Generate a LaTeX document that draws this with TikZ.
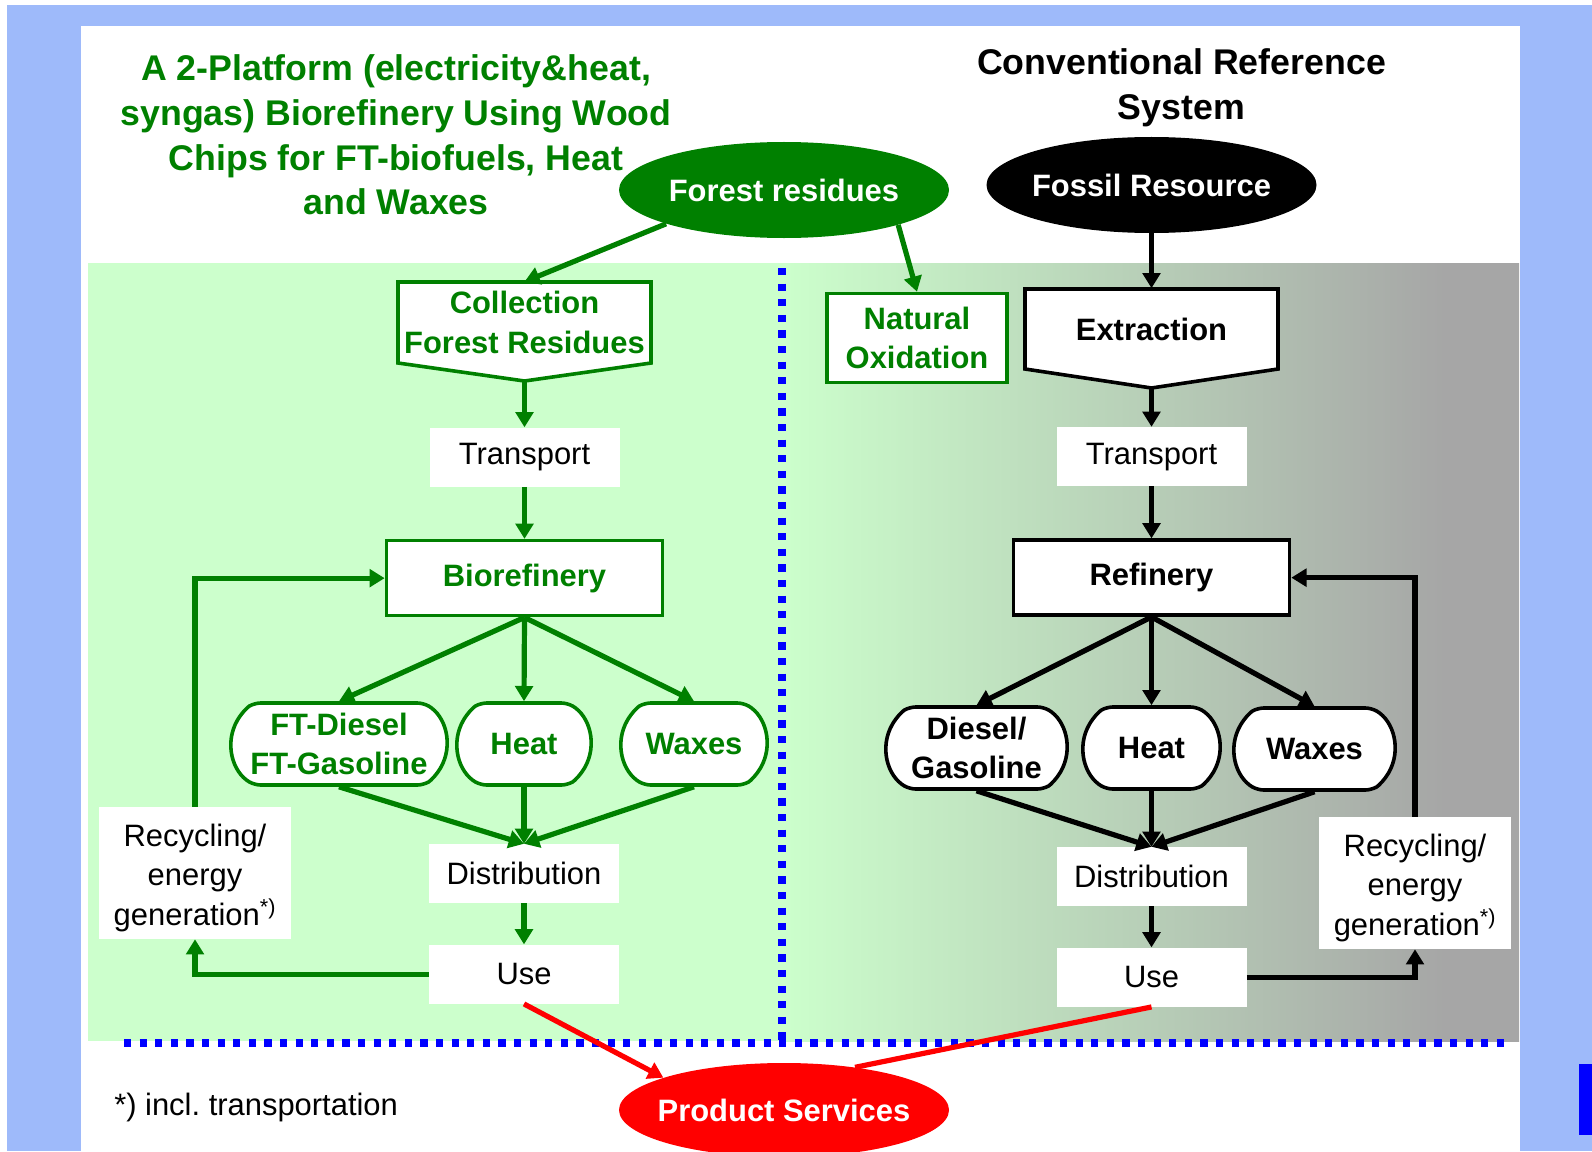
\documentclass[tikz,border=0pt]{standalone}
\usepackage{fontspec}
\setmainfont{Liberation Sans}
\usetikzlibrary{arrows.meta, positioning, shapes.geometric, shapes.misc}
\definecolor{bioGreen}{HTML}{008000}
\definecolor{bioLight}{HTML}{CCFFCC}
\definecolor{refGray}{HTML}{A6A6A6}
\definecolor{slideBlue}{HTML}{9EBAFA}
\definecolor{dotBlue}{HTML}{0000FF}
\definecolor{prodRed}{HTML}{FF0000}
\pgfdeclarehorizontalshading{refshade}{100bp}{color(0bp)=(bioLight); color(25bp)=(bioLight); color(70bp)=(refGray); color(100bp)=(refGray)}
\frenchspacing

\begin{document}
\begin{tikzpicture}[x=0.25mm, y=-0.25mm,
  txt/.style={font=\fontsize{22}{28.2}\selectfont, align=center, inner sep=0pt},
  whitebox/.style={txt, fill=white, minimum width=47.5mm, minimum height=14.75mm},
  gbox/.style={txt, font=\fontsize{22}{28.2}\selectfont\bfseries, text=bioGreen, draw=bioGreen, fill=white, line width=0.9mm},
  kbox/.style={gbox, text=black, draw=black},
  gprod/.style={gbox, rounded rectangle, rounded rectangle arc length=120, rounded corners=1.5mm, minimum height=20.5mm},
  kprod/.style={gprod, text=black, draw=black},
  gpent/.style={txt, font=\fontsize{22}{28.2}\selectfont\bfseries, text=bioGreen, minimum width=63.25mm, minimum height=20.25mm},
  gshape/.style={draw=bioGreen, fill=white, line width=0.9mm},
  titletxt/.style={align=center, inner sep=0pt, font=\fontsize{25.4}{31.8}\selectfont\bfseries},
  ell/.style={ellipse, inner xsep=-5mm, inner ysep=0pt, minimum width=82.5mm, minimum height=24mm, text=white, font=\fontsize{22}{28.2}\selectfont\bfseries},
  garr/.style={draw=bioGreen, line width=1.3mm, -{Triangle[length=3.8mm, width=4.4mm]}},
  karr/.style={garr, draw=black},
  rline/.style={draw=prodRed, line width=1.3mm},
  rarr/.style={rline, -{Triangle[length=3.8mm, width=4.4mm]}},
  dots/.style={draw=dotBlue, line width=1.8mm, dash pattern=on 1.8mm off 2.1mm},
]
  \useasboundingbox (0,0) rectangle (1592,1151);
  \clip (0,0) rectangle (1592,1151);

  % slide background
  \fill[white] (0,0) rectangle (1592,1151);
  \fill[slideBlue] (7,5) rectangle (1592,1151);
  \fill[white] (81,26) rectangle (1520,1151);
  \fill[bioLight] (88,263) rectangle (782,1041);
  \shade[shading=refshade] (782,263) rectangle (1519,1041);
  \fill[dotBlue] (1579,1064) rectangle (1592,1135);
  \draw[dots] (782,268) -- (782,1043);
  \draw[dots] (124,1043) -- (1505,1043);

  % titles
  \node[titletxt, text=bioGreen] (bioTitle) at (396,135) {A 2-Platform (electricity\&heat,\\syngas) Biorefinery Using Wood\\Chips for FT-biofuels, Heat\\and Waxes};
  \node[titletxt] (refTitle) at (1181.5,88) {Conventional Reference\\System};

  % resources
  \node[ell, fill=bioGreen] (forest) at (784,190) {Forest residues};
  \node[ell, fill=black] (fossil) at (1151.5,185) {Fossil Resource};

  % biorefinery chain
  \draw[gshape] (398,282) -- (651,282) -- (651,363) -- (524.5,381) -- (398,363) -- cycle;
  \coordinate (collTip) at (524.5,381);
  \node[gpent] (coll) at (524.5,322.5) {Collection\\Forest Residues};
  \node[whitebox, below=16mm of coll] (trL) {Transport};
  \node[gbox, minimum width=69mm, minimum height=18.75mm, below=13mm of trL] (bioL) {Biorefinery};
  \node[gprod, minimum width=54mm] (ft) at (339,744) {FT-Diesel\\FT-Gasoline};
  \node[gprod, minimum width=33.5mm] (heatL) at (524,744) {Heat};
  \node[gprod, minimum width=36.5mm] (waxL) at (694,744) {Waxes};
  \node[whitebox, below=14.25mm of heatL] (distL) {Distribution};
  \node[whitebox, below=10.25mm of distL] (useL) {Use};
  \node[whitebox, minimum width=48mm, minimum height=33mm] (recycL) at (195,873) {};
  \node[txt, yshift=-1.2mm] (recycLtxt) at (recycL) {Recycling/\\energy\\generation\textsuperscript{*)}};

  % reference chain
  \node[gbox, minimum width=45mm, minimum height=22.25mm] (natox) at (917,338) {Natural\\Oxidation};
  \draw[gshape, draw=black] (1025,289) -- (1278,289) -- (1278,369) -- (1151.5,388) -- (1025,369) -- cycle;
  \coordinate (extrTip) at (1151.5,388);
  \node[gpent, text=black] (extr) at (1151.5,329) {Extraction};
  \node[whitebox, below=14.25mm of extr] (trR) {Transport};
  \node[kbox, minimum width=69mm, minimum height=18.75mm, below=13mm of trR] (ref) {Refinery};
  \node[kprod, minimum width=45.25mm] (diesel) at (976.5,748) {Diesel/\\Gasoline};
  \node[kprod, minimum width=34.25mm] (heatR) at (1151.5,748) {Heat};
  \node[kprod, minimum width=40.25mm] (waxR) at (1314.5,749) {Waxes};
  \node[whitebox, below=14mm of heatR] (distR) {Distribution};
  \node[whitebox, below=10.25mm of distR] (useR) {Use};
  \node[whitebox, minimum width=48mm, minimum height=33mm] (recycR) at (1415,883) {};
  \node[txt, yshift=-1.2mm] (recycRtxt) at (recycR) {Recycling/\\energy\\generation\textsuperscript{*)}};

  \node[ell, fill=prodRed, minimum height=23.5mm] (prod) at (784,1110) {Product Services};
  \node[txt, anchor=west] (note) at (114,1107) {*) incl. transportation};

  % biorefinery flows
  \draw[garr] (forest.196) -- (coll.north);
  \draw[garr] (forest.343) -- (natox.north);
  \draw[garr] (collTip) -- (trL.north);
  \draw[garr] (trL) -- (bioL);
  \foreach \p in {ft, heatL, waxL} {
    \draw[garr] (bioL.south) -- (\p.north);
    \draw[garr] (\p.south) -- (distL.north);
  }
  \draw[garr] (distL) -- (useL);
  \draw[garr] (useL.west) -| (recycL.south);
  \draw[garr] (recycL.north) |- (bioL.west);
  \draw[rarr] (useL.south) -- (prod.165);

  % reference flows
  \draw[karr] (fossil) -- (extr.north);
  \draw[karr] (extrTip) -- (trR.north);
  \draw[karr] (trR) -- (ref);
  \foreach \p in {diesel, heatR, waxR} {
    \draw[karr] (ref.south) -- (\p.north);
    \draw[karr] (\p.south) -- (distR.north);
  }
  \draw[karr] (distR) -- (useR);
  \draw[karr] (useR.east) -| (recycR.south);
  \draw[karr] (recycR.north) |- (ref.east);
  \draw[rline] (useR.south) -- (prod.31);
\end{tikzpicture}
\end{document}
